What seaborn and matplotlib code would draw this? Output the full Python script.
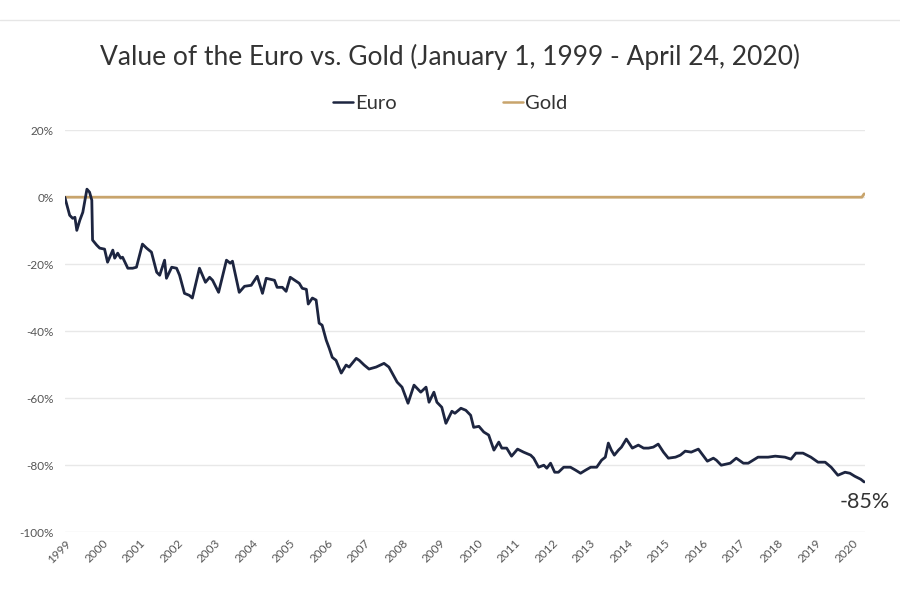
import numpy as np
import pandas as pd
import matplotlib.pyplot as plt
from matplotlib.ticker import FuncFormatter
from matplotlib.lines import Line2D
import seaborn as sns

### DATA ###
# euro value measured in gold, % change since Jan 1 1999 (read off the chart)
euro_t = [1999.00, 1999.13, 1999.21, 1999.27, 1999.32, 1999.40, 1999.48, 1999.59, 1999.66, 1999.72,
          1999.74, 1999.85, 1999.93, 2000.06, 2000.14, 2000.28, 2000.33, 2000.41, 2000.49, 2000.54,
          2000.68, 2000.81, 2000.91, 2001.07, 2001.18, 2001.31, 2001.45, 2001.53, 2001.66, 2001.71,
          2001.85, 2001.98, 2002.06, 2002.19, 2002.32, 2002.40, 2002.59, 2002.75, 2002.86, 2002.94,
          2003.10, 2003.31, 2003.41, 2003.47, 2003.65, 2003.79, 2003.97, 2004.13, 2004.27, 2004.37,
          2004.59, 2004.66, 2004.80, 2004.90, 2005.01, 2005.25, 2005.33, 2005.44, 2005.49, 2005.60,
          2005.70, 2005.78, 2005.86, 2005.97, 2006.05, 2006.13, 2006.23, 2006.37, 2006.50, 2006.58,
          2006.77, 2006.85, 2006.98, 2007.11, 2007.30, 2007.51, 2007.64, 2007.86, 2007.99, 2008.15,
          2008.31, 2008.49, 2008.63, 2008.71, 2008.84, 2008.92, 2009.05, 2009.16, 2009.32, 2009.40,
          2009.56, 2009.69, 2009.82, 2009.90, 2010.04, 2010.17, 2010.30, 2010.44, 2010.57, 2010.65,
          2010.78, 2010.91, 2011.07, 2011.23, 2011.42, 2011.50, 2011.63, 2011.77, 2011.85, 2011.95,
          2012.06, 2012.16, 2012.30, 2012.48, 2012.62, 2012.75, 2012.88, 2013.02, 2013.18, 2013.31,
          2013.41, 2013.49, 2013.57, 2013.65, 2013.76, 2013.84, 2013.97, 2014.13, 2014.29, 2014.43,
          2014.56, 2014.69, 2014.82, 2014.96, 2015.09, 2015.28, 2015.41, 2015.54, 2015.70, 2015.89,
          2015.97, 2016.13, 2016.29, 2016.37, 2016.50, 2016.74, 2016.90, 2017.09, 2017.22, 2017.48,
          2017.75, 2017.94, 2018.20, 2018.36, 2018.49, 2018.68, 2018.89, 2019.08, 2019.27, 2019.43,
          2019.61, 2019.80, 2019.93, 2020.06, 2020.22, 2020.31]
euro_pct = [0.0, -5.4, -6.3, -6.0, -9.9, -6.9, -4.5, 2.4, 1.5, -0.9,
            -12.8, -14.3, -15.2, -15.5, -19.4, -15.8, -18.2, -16.7, -18.2, -17.9,
            -21.2, -21.2, -20.9, -14.0, -15.2, -16.4, -22.4, -23.3, -18.8, -24.2,
            -20.9, -21.2, -23.3, -28.7, -29.3, -30.1, -21.2, -25.4, -23.9, -24.8,
            -28.4, -18.8, -19.7, -19.1, -28.4, -26.6, -26.3, -23.6, -28.7, -24.2,
            -24.8, -26.9, -26.9, -28.1, -23.9, -25.7, -27.2, -27.5, -31.9, -30.1,
            -30.7, -37.6, -38.2, -42.7, -45.1, -47.8, -48.7, -52.5, -50.1, -50.7,
            -48.1, -48.7, -50.1, -51.3, -50.7, -49.6, -50.7, -55.2, -56.7, -61.5,
            -56.1, -58.2, -56.7, -61.2, -58.2, -61.2, -62.7, -67.5, -63.9, -64.5,
            -63.0, -63.6, -65.1, -68.7, -68.4, -70.1, -71.0, -75.5, -73.1, -74.9,
            -74.9, -77.3, -75.2, -76.1, -77.0, -77.9, -80.6, -80.0, -80.9, -79.4,
            -82.1, -82.1, -80.6, -80.6, -81.5, -82.4, -81.5, -80.6, -80.6, -78.5,
            -77.6, -73.4, -75.5, -77.0, -75.5, -74.6, -72.2, -74.9, -74.0, -74.9,
            -74.9, -74.6, -73.7, -76.1, -77.9, -77.6, -77.0, -75.8, -76.1, -75.2,
            -76.4, -78.8, -77.9, -78.5, -80.0, -79.4, -77.9, -79.4, -79.4, -77.6,
            -77.6, -77.3, -77.6, -78.2, -76.4, -76.4, -77.6, -79.1, -79.1, -80.6,
            -83.0, -82.1, -82.4, -83.3, -84.2, -85.0]

# gold is the baseline
gold_t = [1999.00, 2020.25, 2020.31]
gold_pct = [0.0, 0.0, 1.0]

years = list(range(1999, 2021))
y_ticks = [20, 0, -20, -40, -60, -80, -100]

df = pd.concat([
    pd.DataFrame({'t': euro_t, 'pct': euro_pct, 'series': 'Euro'}),
    pd.DataFrame({'t': gold_t, 'pct': gold_pct, 'series': 'Gold'}),
], ignore_index=True)

### PLOT ###
sns.set_style('white')
plt.rcParams['font.family'] = ['Lato', 'DejaVu Sans']

NAVY = '#1d2540'
GOLD = '#c8a46c'

fig = plt.figure(figsize=(9, 6), dpi=100)
ax = fig.add_axes([0.072, 0.113, 0.889, 0.670])

sns.lineplot(data=df, x='t', y='pct', hue='series', palette={'Euro': NAVY, 'Gold': GOLD},
             hue_order=['Gold', 'Euro'], linewidth=2.0, ax=ax, legend=False)

ax.set_xlim(1999, 2020.33)
ax.set_ylim(-100, 20)
ax.set_xticks(years)
ax.set_xticklabels([str(y) for y in years], rotation=45, ha='right', rotation_mode='anchor',
                   fontsize=8.5, color='#555555')
ax.set_yticks(y_ticks)
ax.yaxis.set_major_formatter(FuncFormatter(lambda v, p: f'{int(v)}%'))
ax.tick_params(axis='y', labelsize=8.5, labelcolor='#555555', length=0, pad=8)
ax.tick_params(axis='x', length=0, pad=4)
ax.grid(axis='y', color='#e8e8e8', linewidth=1)
ax.grid(axis='x', visible=False)
sns.despine(ax=ax, left=True, bottom=True)
ax.set_xlabel('')
ax.set_ylabel('')

# legend
handles = [Line2D([], [], color=NAVY, linewidth=1.8), Line2D([], [], color=GOLD, linewidth=1.8)]
fig.legend(handles, ['Euro', 'Gold'], loc='center', bbox_to_anchor=(0.5, 0.828), ncol=2,
           frameon=False, fontsize=14.5, handlelength=1.0, handletextpad=0.1, columnspacing=5.3,
           labelcolor='#333333')

fig.text(0.5, 0.905, 'Value of the Euro vs. Gold (January 1, 1999 - April 24, 2020)',
         ha='center', va='center', fontsize=19, color='#333333')

ax.text(2021.0, -88, '-85%', ha='right', va='top', fontsize=15.5, color='#333333', clip_on=False)

# thin rule at the top of the image
fig.add_artist(Line2D([0, 1], [0.967, 0.967], color='#e6e6e6', linewidth=1))

fig.savefig('out.png', dpi=100, facecolor='white')
